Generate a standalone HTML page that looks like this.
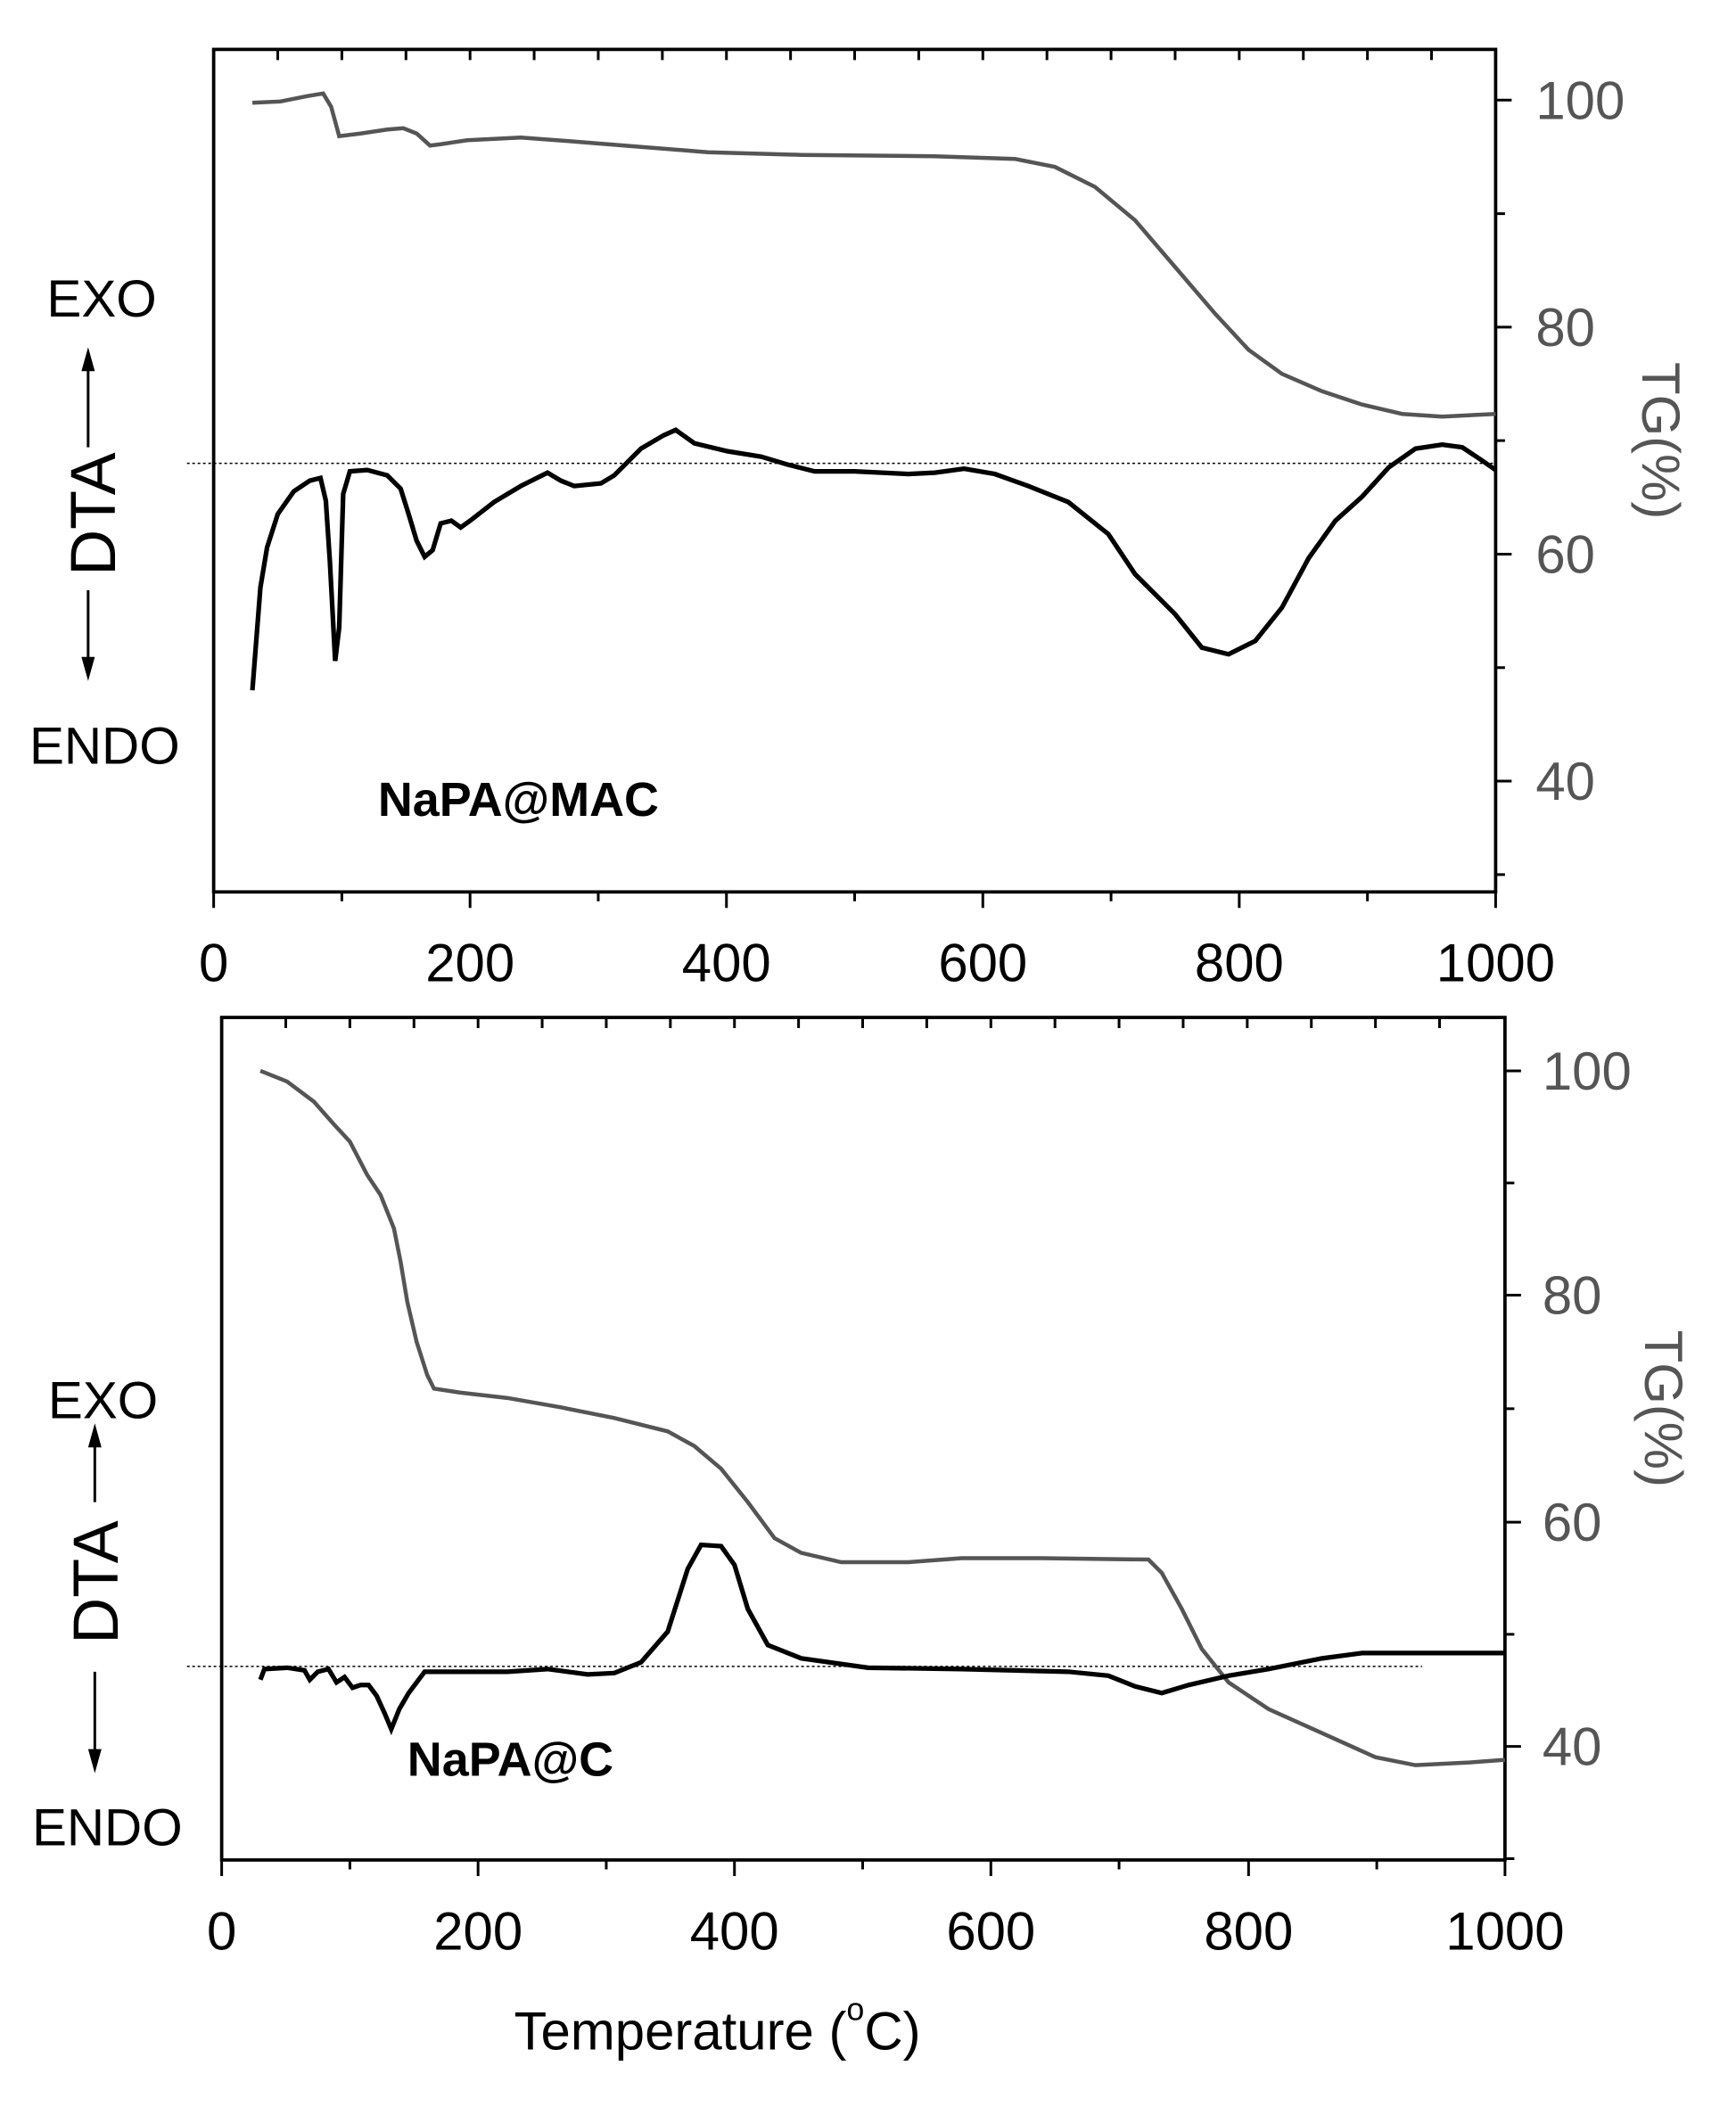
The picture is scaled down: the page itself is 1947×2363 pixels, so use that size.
<!DOCTYPE html>
<html><head><meta charset="utf-8"><style>
html,body{margin:0;padding:0;background:#fff;}
svg{display:block;}
text{font-family:"Liberation Sans",sans-serif;}
</style></head><body>
<svg width="1947" height="2363" viewBox="0 0 1300 1578" preserveAspectRatio="none">
<rect width="1300" height="1578" fill="#fff"/>
<!-- TOP PANEL -->
<rect x="160" y="37" width="960" height="631" fill="none" stroke="#000" stroke-width="2.5"/>
<g stroke="#000" stroke-width="2">
<path d="M160 37v8M208 37v8M256 37v8M304 37v8M352 37v8M400 37v8M448 37v8M496 37v8M544 37v8M592 37v8M640 37v8M688 37v8M736 37v8M784 37v8M832 37v8M880 37v8M928 37v8M976 37v8M1024 37v8M1072 37v8"/>
<path d="M160 668v12M352 668v12M544 668v12M736 668v12M928 668v12M1120 668v12M256 668v7M448 668v7M640 668v7M832 668v7M1024 668v7"/>
<path d="M1120 75h12M1120 245h12M1120 415h12M1120 585h12M1120 160h7M1120 330h7M1120 500h7M1120 655h7"/>
</g>
<line x1="140" y1="347" x2="1120" y2="347" stroke="#000" stroke-width="1" stroke-dasharray="2,2"/>
<g font-size="40" fill="#000" text-anchor="middle">
<text x="160" y="735">0</text><text x="352" y="735">200</text><text x="544" y="735">400</text><text x="736" y="735">600</text><text x="928" y="735">800</text><text x="1120" y="735">1000</text>
</g>
<g font-size="40" fill="#555">
<text x="1150" y="89">100</text><text x="1150" y="259">80</text><text x="1150" y="429">60</text><text x="1150" y="599">40</text>
</g>
<text font-size="40" fill="#555" transform="translate(1230,330) rotate(90)" text-anchor="middle">TG(%)</text>
<text font-size="39" x="35" y="237">EXO</text>
<text font-size="39" x="22" y="572">ENDO</text>
<text font-size="48" transform="translate(86,385) rotate(-90)" text-anchor="middle">DTA</text>
<g stroke="#000" stroke-width="2"><line x1="66" y1="335" x2="66" y2="270"/><line x1="66" y1="442" x2="66" y2="500"/></g>
<path d="M66 260l-5 18h10z M66 510l-5-18h10z" fill="#000"/>
<text font-size="36" font-weight="bold" x="283" y="611">NaPA@MAC</text>
<polyline fill="none" stroke="#555" stroke-width="3" points="189,77 210,76 230,72 242,70 248,80 254,102 270,100 290,97 302,96 312,100 322,109 330,108 350,105 390,103 430,106 480,110 530,114 600,116 700,117 760,119 790,125 820,140 850,165 880,200 910,235 935,262 960,280 990,293 1020,303 1050,310 1080,312 1120,310"/>
<polyline fill="none" stroke="#000" stroke-width="3.5" points="189,517 195,440 200,410 208,385 220,368 232,360 240,358 244,375 247,420 251,495 254,470 257,370 262,353 275,352 290,356 300,366 306,385 312,405 318,417 324,412 330,392 338,390 345,395 352,390 370,376 390,364 410,354 420,360 430,364 450,362 460,356 480,336 497,326 506,322 520,332 545,338 570,342 590,348 610,353 640,353 680,355 700,354 722,351 745,355 770,364 800,376 830,400 850,430 880,460 900,485 920,490 940,480 960,455 980,418 1000,390 1020,372 1040,350 1060,336 1080,333 1095,335 1110,345 1120,352"/>

<!-- BOTTOM PANEL -->
<rect x="166" y="762" width="961" height="631" fill="none" stroke="#000" stroke-width="2.5"/>
<g stroke="#000" stroke-width="2">
<path d="M214 762v8M262 762v8M310 762v8M358 762v8M406 762v8M454 762v8M502 762v8M550 762v8M598 762v8M646 762v8M694 762v8M742 762v8M790 762v8M838 762v8M886 762v8M934 762v8M982 762v8M1030 762v8M1078 762v8"/>
<path d="M166 1393v12M358 1393v12M550 1393v12M742 1393v12M935 1393v12M1127 1393v12M262 1393v7M454 1393v7M646 1393v7M838 1393v7M1031 1393v7"/>
<path d="M1127 802h12M1127 970h12M1127 1140h12M1127 1308h12M1127 886h7M1127 1055h7M1127 1224h7M1127 1392h7"/>
</g>
<line x1="140" y1="1248" x2="1065" y2="1248" stroke="#000" stroke-width="1" stroke-dasharray="2,2"/>
<g font-size="40" fill="#000" text-anchor="middle">
<text x="166" y="1460">0</text><text x="358" y="1460">200</text><text x="550" y="1460">400</text><text x="742" y="1460">600</text><text x="935" y="1460">800</text><text x="1127" y="1460">1000</text>
</g>
<g font-size="40" fill="#555">
<text x="1155" y="816">100</text><text x="1155" y="984">80</text><text x="1155" y="1154">60</text><text x="1155" y="1322">40</text>
</g>
<text font-size="40" fill="#555" transform="translate(1232,1055) rotate(90)" text-anchor="middle">TG(%)</text>
<text font-size="39" x="36" y="1062">EXO</text>
<text font-size="39" x="24" y="1382">ENDO</text>
<text font-size="48" transform="translate(88,1185) rotate(-90)" text-anchor="middle">DTA</text>
<g stroke="#000" stroke-width="2"><line x1="71" y1="1125" x2="71" y2="1075"/><line x1="71" y1="1252" x2="71" y2="1318"/></g>
<path d="M71 1066l-5 18h10z M71 1328l-5-18h10z" fill="#000"/>
<text font-size="36" font-weight="bold" x="305" y="1330">NaPA@C</text>
<polyline fill="none" stroke="#555" stroke-width="3" points="195,802 215,810 235,825 250,842 262,855 275,880 285,895 295,920 300,945 305,975 312,1005 320,1030 325,1040 345,1043 380,1047 420,1054 460,1062 500,1072 520,1083 540,1100 560,1125 580,1152 600,1163 630,1170 680,1170 720,1167 780,1167 860,1168 870,1178 885,1205 900,1235 920,1260 950,1280 990,1298 1030,1316 1060,1322 1100,1320 1127,1318"/>
<polyline fill="none" stroke="#000" stroke-width="3.5" points="195,1258 198,1250 215,1249 228,1251 232,1258 238,1252 246,1250 252,1260 258,1256 264,1264 270,1262 276,1262 282,1270 288,1283 293,1295 299,1280 306,1268 312,1260 318,1252 340,1252 380,1252 410,1250 440,1254 460,1253 480,1245 500,1222 515,1175 525,1157 540,1158 550,1172 560,1205 575,1232 600,1242 650,1249 720,1250 800,1252 830,1255 850,1263 870,1268 890,1262 920,1255 950,1250 990,1242 1020,1238 1127,1238"/>
<text font-size="40" x="385" y="1535">Temperature (<tspan font-size="24" dy="-22">o</tspan><tspan dy="22">C)</tspan></text>
</svg>
</body></html>
